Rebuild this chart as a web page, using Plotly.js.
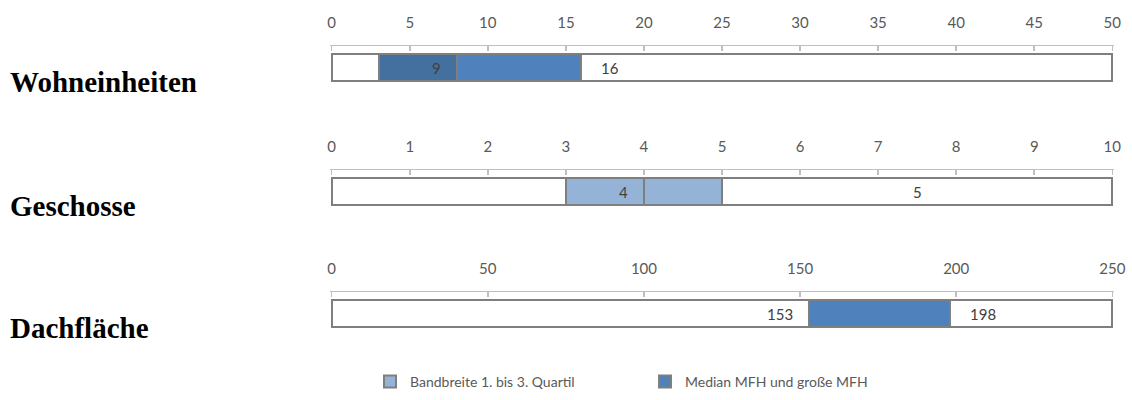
<!DOCTYPE html>
<html>
<head>
<meta charset="utf-8">
<script src="https://cdn.plot.ly/plotly-3.0.1.min.js"></script>
<style>html,body{margin:0;padding:0;background:#fff;}#chart{width:1132px;height:400px;}</style>
</head>
<body>
<div id="chart"></div>
<script>
// ---------- data ----------
const categories = ['Wohneinheiten', 'Geschosse', 'Dachfläche'];
const axisMax = [50, 10, 250];
const tickStep = [5, 1, 50];
// segment lengths (stacked from 0)
const wohneinheitenSegments = [3, 5, 8, 34];
const geschosseSegments = [3, 1, 1, 5];
const dachflaecheSegments = [153, 45, 52];
// data labels per segment
const wohneinheitenLabels = ['', '9', '', '16'];
const geschosseLabels = ['', '4', '', '5'];
const dachflaecheLabels = ['153', '', '198'];
// segment kind per segment
const wohneinheitenKinds = ['leer', 'median dunkel', 'median', 'leer'];
const geschosseKinds = ['leer', 'quartil', 'quartil', 'leer'];
const dachflaecheKinds = ['leer', 'median', 'leer'];
const legendNames = {quartil: 'Bandbreite 1. bis 3. Quartil', median: 'Median MFH und große MFH'};

// ---------- style / layout ----------
const segments = [wohneinheitenSegments, geschosseSegments, dachflaecheSegments];
const labels = [wohneinheitenLabels, geschosseLabels, dachflaecheLabels];
const kinds = [wohneinheitenKinds, geschosseKinds, dachflaecheKinds];
const labelPos = [['', 'end', '', 'start'], ['', 'end', '', 'center'], ['end', '', 'start']];
const fills = {leer: '#ffffff', 'median dunkel': '#44709f', median: '#4f81bd', quartil: '#95b3d7'};
const W = 1132, H = 400;
const linePx = [46, 170, 292];
const domH = 43;
const x0px = 331.7, x1px = 1112.3, padPx = 2;
const barWidth = 27 / domH;
const tickFont = {family: 'Lato, "Open Sans", sans-serif', size: 15, color: '#595959'};

const traces = [];
const annotations = [];
const layout = {
  width: W, height: H,
  margin: {l: 0, r: 0, t: 0, b: 0},
  paper_bgcolor: '#ffffff', plot_bgcolor: 'rgba(0,0,0,0)',
  barmode: 'stack',
  showlegend: true,
  hovermode: false,
  legend: {
    orientation: 'h', x: 370 / W, xanchor: 'left', y: 1 - 382 / H, yanchor: 'middle',
    font: {family: 'Lato, "Open Sans", sans-serif', size: 14, color: '#595959'},
    traceorder: 'normal', entrywidth: 230, entrywidthmode: 'pixels', itemwidth: 30
  },
  annotations: annotations
};
const legendShown = {};

for (let p = 0; p < 3; p++) {
  const xa = p === 0 ? 'x' : 'x' + (p + 1);
  const ya = p === 0 ? 'y' : 'y' + (p + 1);
  const xKey = p === 0 ? 'xaxis' : 'xaxis' + (p + 1);
  const yKey = p === 0 ? 'yaxis' : 'yaxis' + (p + 1);
  const u = axisMax[p] / (x1px - x0px);
  const top = 1 - linePx[p] / H;
  const bottom = 1 - (linePx[p] + domH) / H;
  layout[xKey] = {
    domain: [(x0px - padPx) / W, (x1px + padPx) / W],
    range: [-padPx * u, axisMax[p] + padPx * u],
    side: 'top', anchor: ya,
    showline: true, linecolor: '#bfbfbf', linewidth: 1.5,
    ticks: 'inside', ticklen: 5, tickcolor: '#bfbfbf', tickwidth: 1.5,
    tick0: 0, dtick: tickStep[p],
    showgrid: false, zeroline: false,
    tickfont: tickFont, ticklabelstandoff: 11, fixedrange: true
  };
  layout[yKey] = {
    domain: [bottom, top], range: [-0.5, 0.5], anchor: xa,
    visible: false, fixedrange: true
  };
  let cum = 0;
  segments[p].forEach((len, s) => {
    const kind = kinds[p][s];
    const name = legendNames[kind] || kind;
    const show = !!legendNames[kind] && !legendShown[kind];
    if (show) legendShown[kind] = true;
    traces.push({
      type: 'bar', orientation: 'h', x: [len], y: [0], xaxis: xa, yaxis: ya,
      width: barWidth, name: name, showlegend: show,
      legendrank: kind === 'quartil' ? 1 : 2,
      marker: {color: fills[kind], line: {color: '#7f7f7f', width: 2}},
      hoverinfo: 'skip'
    });
    const pos = labelPos[p][s];
    const txt = labels[p][s];
    if (txt) {
      let ax, anchor, shift;
      if (pos === 'end') { ax = cum + len; anchor = 'right'; shift = -14; }
      else if (pos === 'start') { ax = cum; anchor = 'left'; shift = 18; }
      else { ax = cum + len / 2; anchor = 'center'; shift = 0; }
      annotations.push({
        text: txt, x: ax, y: 0, xref: xa, yref: ya, xanchor: anchor, yanchor: 'middle',
        xshift: shift, showarrow: false,
        font: {family: 'Lato, "Open Sans", sans-serif', size: 15, color: '#404040'}
      });
    }
    cum += len;
  });
  // category label
  annotations.push({
    text: '<b>' + categories[p] + '</b>', xref: 'paper', yref: 'paper',
    x: 8 / W, xanchor: 'left',
    y: 1 - (linePx[p] + 21.5 + 14) / H, yanchor: 'middle', showarrow: false,
    font: {family: '"Liberation Serif", "Times New Roman", serif', size: 29, color: '#000000'}
  });
}

Plotly.newPlot('chart', traces, layout, {staticPlot: true, displayModeBar: false});
</script>
</body>
</html>
